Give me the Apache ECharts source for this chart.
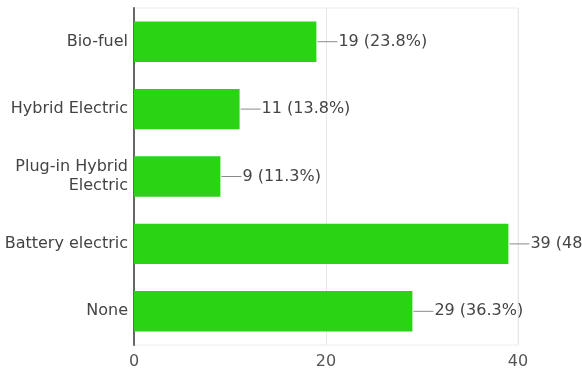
<!DOCTYPE html>
<html>
<head>
<meta charset="utf-8">
<style>html,body{margin:0;padding:0;background:#fff;}#c{width:582px;height:376px;}</style>
<script src="https://cdn.jsdelivr.net/npm/echarts@6/dist/echarts.min.js"></script>
</head>
<body>
<div id="c"></div>
<script>
var categories = ['Bio-fuel', 'Hybrid Electric', 'Plug-in Hybrid\nElectric', 'Battery electric', 'None'];
var counts = [19, 11, 9, 39, 29];
var percents = ['23.8%', '13.8%', '11.3%', '48.8%', '36.3%'];
var xTicks = [0, 20, 40];

var FONT = 'DejaVu Sans';
var chart = echarts.init(document.getElementById('c'), null, {renderer: 'canvas'});
chart.setOption({
  animation: false,
  grid: {left: 134, right: 64, top: 8, bottom: 31, show: true, borderColor: '#ececec', borderWidth: 1},
  xAxis: {
    type: 'value', min: xTicks[0], max: xTicks[xTicks.length - 1], interval: xTicks[1] - xTicks[0],
    axisLine: {show: false}, axisTick: {show: false},
    splitLine: {lineStyle: {color: '#e8e8e8', width: 1}},
    axisLabel: {color: '#555', fontSize: 16, fontFamily: FONT, margin: 9}
  },
  yAxis: {
    type: 'category', data: categories, inverse: true,
    axisLine: {show: true, lineStyle: {color: '#666', width: 2}},
    axisTick: {show: false},
    axisLabel: {color: '#444', fontSize: 16, fontFamily: FONT, margin: 6, lineHeight: 19, align: 'right'}
  },
  series: [{
    type: 'bar',
    data: counts,
    barCategoryGap: '40%',
    itemStyle: {color: '#2ad414'},
    label: {
      show: true, position: 'right', distance: 1,
      formatter: function (p) { return '{l|}{t|' + counts[p.dataIndex] + ' (' + percents[p.dataIndex] + ')}'; },
      rich: {
        l: {width: 20, height: 1, backgroundColor: '#8a8a8a', verticalAlign: 'middle'},
        t: {color: '#444', fontSize: 16, fontFamily: FONT, padding: [0, 0, 0, 1], verticalAlign: 'middle'}
      }
    }
  }]
});
</script>
</body>
</html>
